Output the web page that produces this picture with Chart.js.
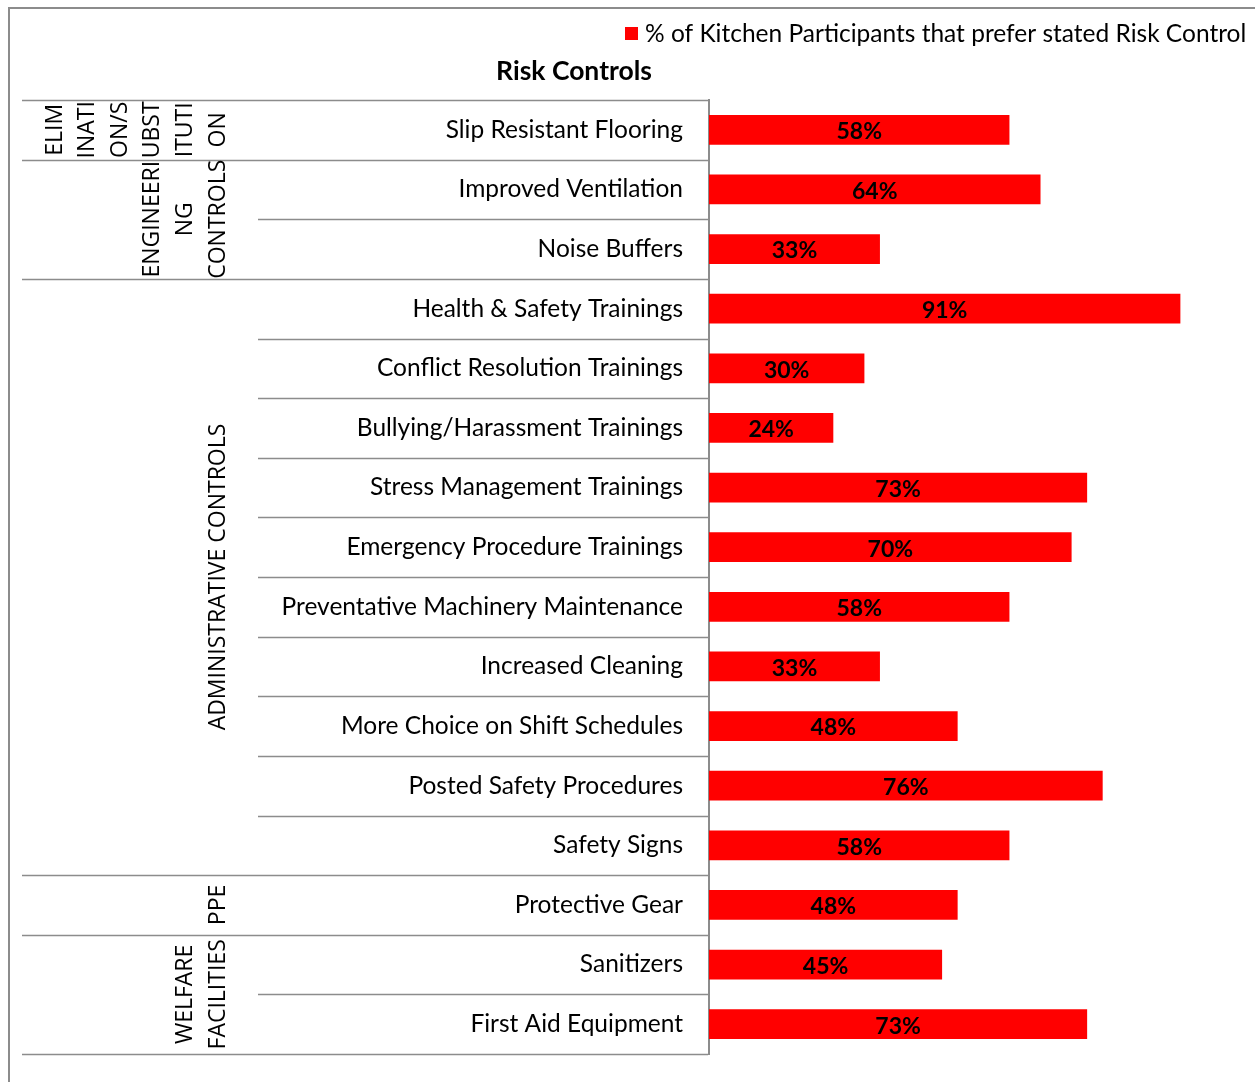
<!DOCTYPE html>
<html>
<head>
<meta charset="utf-8">
<script src="https://cdn.jsdelivr.net/npm/chart.js@4.4.1/dist/chart.umd.min.js"></script>
<style>
  html, body { margin: 0; padding: 0; background: #fff; }
  #wrap { width: 1255px; height: 1082px; position: relative; }
</style>
</head>
<body>
<div id="wrap"><canvas id="chart" width="1255" height="1082"></canvas></div>
<script>
// Risk control options and share of kitchen participants preferring each
const categories = [
  'Slip Resistant Flooring',
  'Improved Ventilation',
  'Noise Buffers',
  'Health & Safety Trainings',
  'Conflict Resolution Trainings',
  'Bullying/Harassment Trainings',
  'Stress Management Trainings',
  'Emergency Procedure Trainings',
  'Preventative Machinery Maintenance',
  'Increased Cleaning',
  'More Choice on Shift Schedules',
  'Posted Safety Procedures',
  'Safety Signs',
  'Protective Gear',
  'Sanitizers',
  'First Aid Equipment'
];
const values = [58, 64, 33, 91, 30, 24, 73, 70, 58, 33, 48, 76, 58, 48, 45, 73];

// Hierarchy-of-controls groups (wrapped label lines) and how many items each covers
const groupLabels = [
  ['ELIM', 'INATI', 'ON/S', 'UBST', 'ITUTI', 'ON'],
  ['ENGINEERI', 'NG', 'CONTROLS'],
  ['ADMINISTRATIVE CONTROLS'],
  ['PPE'],
  ['WELFARE', 'FACILITIES']
];
const groupSizes = [1, 2, 10, 1, 2];

const seriesName = '% of Kitchen Participants that prefer stated Risk Control';
const chartTitle = 'Risk Controls';

const LINE = '#8c8c8c';
const RED = '#ff0000';
const LABEL_FONT = '"Lato", "Liberation Sans", sans-serif';
const GROUP_FONT = '"Open Sans", "DejaVu Sans", sans-serif';

const decorations = {
  id: 'decorations',
  afterDraw(chart) {
    const ctx = chart.ctx;
    const area = chart.chartArea;
    const yScale = chart.scales.y;
    const n = categories.length;
    const step = (yScale.bottom - yScale.top) / n;
    const edge = i => yScale.top + i * step;

    ctx.save();

    // outer frame (top and left edges)
    ctx.strokeStyle = LINE;
    ctx.lineWidth = 2;
    ctx.beginPath();
    ctx.moveTo(9, 1082);
    ctx.lineTo(9, 8);
    ctx.lineTo(1255, 8);
    ctx.stroke();

    // separators between items (short) and between groups (long)
    const groupEdges = new Set([0]);
    let acc = 0;
    groupSizes.forEach(s => { acc += s; groupEdges.add(acc); });
    ctx.lineWidth = 1.5;
    for (let i = 0; i <= n; i++) {
      const y = Math.round(edge(i)) + 0.5;
      const x0 = groupEdges.has(i) ? 22 : 258;
      ctx.beginPath();
      ctx.moveTo(x0, y);
      ctx.lineTo(area.left - 1, y);
      ctx.stroke();
    }

    // rotated group labels
    ctx.fillStyle = '#000';
    ctx.font = '23px ' + GROUP_FONT;
    ctx.textAlign = 'center';
    ctx.textBaseline = 'middle';
    let start = 0;
    groupLabels.forEach((lines, g) => {
      const yc = (edge(start) + edge(start + groupSizes[g])) / 2;
      lines.forEach((txt, j) => {
        const x = 218 - (lines.length - 1 - j) * 32.6;
        ctx.save();
        ctx.translate(x, yc);
        ctx.rotate(-Math.PI / 2);
        ctx.fillText(txt, 0, 0);
        ctx.restore();
      });
      start += groupSizes[g];
    });

    // value labels centred in each bar
    const meta = chart.getDatasetMeta(0);
    ctx.font = 'bold 23px ' + LABEL_FONT;
    meta.data.forEach((bar, i) => {
      const cx = (bar.base + bar.x) / 2;
      ctx.fillText(values[i] + '%', cx, bar.y + 2);
    });

    // title
    ctx.font = 'bold 26.5px ' + LABEL_FONT;
    ctx.fillText(chartTitle, 574, 71);

    // legend
    ctx.fillStyle = RED;
    ctx.fillRect(625, 27, 13, 13);
    ctx.fillStyle = '#000';
    ctx.font = '24.5px ' + LABEL_FONT;
    ctx.textAlign = 'left';
    ctx.fillText(seriesName, 645, 34);

    ctx.restore();
  }
};

new Chart(document.getElementById('chart'), {
  type: 'bar',
  data: {
    labels: categories,
    datasets: [{
      label: seriesName,
      data: values,
      backgroundColor: RED,
      borderWidth: 0,
      categoryPercentage: 1,
      barPercentage: 0.5
    }]
  },
  options: {
    indexAxis: 'y',
    responsive: false,
    animation: false,
    layout: { padding: { top: 100, bottom: 28, left: 0, right: 28 } },
    plugins: {
      legend: { display: false },
      title: { display: false },
      tooltip: { enabled: false }
    },
    scales: {
      x: {
        display: false,
        min: 0,
        max: 100
      },
      y: {
        afterFit(scale) {
          scale.width = 709;
          scale.paddingTop = 0;
          scale.paddingBottom = 0;
        },
        grid: { display: false, drawTicks: false },
        border: { display: true, color: LINE, width: 2 },
        ticks: {
          color: '#000',
          padding: 26,
          font: { family: LABEL_FONT, size: 24.5 }
        }
      }
    }
  },
  plugins: [decorations]
});
</script>
</body>
</html>
